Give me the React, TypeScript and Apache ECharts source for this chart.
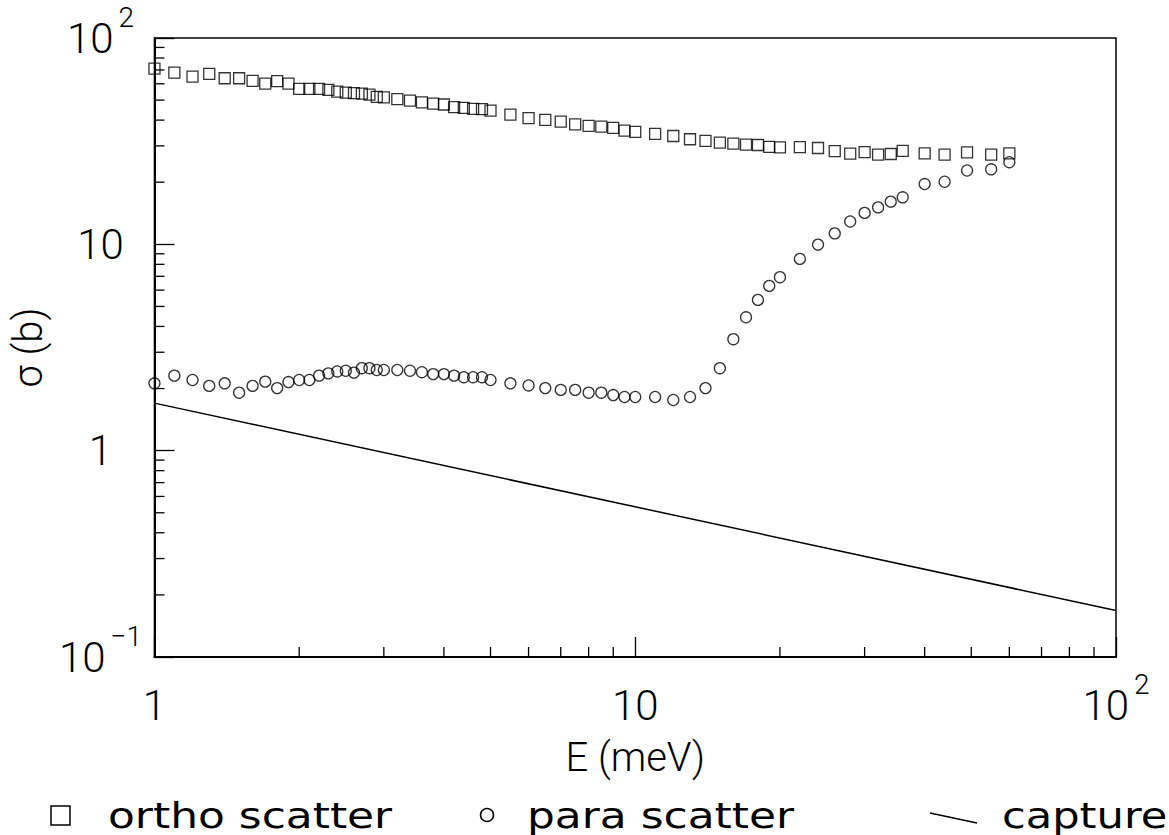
import React, { useEffect, useRef } from "react";
import * as echarts from "echarts";

// Energies (meV) shared by both scatter series
const energies = [
  1.0, 1.1, 1.2, 1.3, 1.4, 1.5, 1.6, 1.7, 1.8, 1.9,
  2.0, 2.1, 2.2, 2.3, 2.4, 2.5, 2.6, 2.7, 2.8, 2.9,
  3.0, 3.2, 3.4, 3.6, 3.8, 4.0, 4.2, 4.4, 4.6, 4.8,
  5.0, 5.5, 6.0, 6.5, 7.0, 7.5, 8.0, 8.5, 9.0, 9.5,
  10, 11, 12, 13, 14, 15, 16, 17, 18, 19,
  20, 22, 24, 26, 28, 30, 32, 34, 36, 40,
  44, 49, 55, 60,
];

// ortho scatter cross-section (b)
const orthoScatter = [
  71, 67.9, 65.0, 67.0, 63.8, 63.8, 62.0, 60.1, 61.8, 60.1,
  56.7, 56.7, 56.7, 56.0, 55.0, 54.4, 54.0, 53.8, 53.2, 51.8,
  51.6, 50.5, 49.7, 48.8, 48.1, 47.6, 46.2, 45.8, 45.3, 45.2,
  44.5, 42.5, 40.9, 40.1, 39.3, 38.1, 37.5, 37.2, 36.7, 35.6,
  35.1, 34.3, 33.5, 32.3, 31.7, 31.1, 30.8, 30.4, 30.3, 29.7,
  29.5, 29.6, 29.3, 28.3, 27.5, 28.0, 27.2, 27.4, 28.4, 27.6,
  27.2, 27.9, 27.2, 27.6,
];

// para scatter cross-section (b)
const paraScatter = [
  2.12, 2.31, 2.2, 2.06, 2.12, 1.91, 2.06, 2.16, 2.01, 2.15,
  2.2, 2.2, 2.31, 2.37, 2.42, 2.44, 2.39, 2.51, 2.51, 2.46,
  2.46, 2.46, 2.44, 2.4, 2.35, 2.35, 2.31, 2.27, 2.27, 2.27,
  2.2, 2.12, 2.07, 2.01, 1.97, 1.97, 1.91, 1.91, 1.86, 1.82,
  1.82, 1.82, 1.76, 1.82, 2.01, 2.51, 3.47, 4.43, 5.38, 6.29,
  6.93, 8.5, 9.97, 11.3, 12.9, 14.2, 15.1, 16.1, 16.9, 19.6,
  20.1, 22.8, 23.1, 25.0,
];

// capture cross-section (straight line on log-log)
const captureE = [1, 100];
const captureSigma = [1.7, 0.168];

const xTickValues = [1, 10, 100];
const xTickLabels = ["{b|1}", "{b|10}", "{b|10}{s|2}"];
const yTickValues = [0.1, 1, 10, 100];
const yTickLabels = ["{b|10}{s|\u22121}", "{b|1}", "{b|10}", "{b|10}{s|2}"];

const xMinorTicks = [2, 3, 4, 5, 6, 7, 8, 9, 20, 30, 40, 50, 60, 70, 80, 90];
const yMinorTicks = [
  0.2, 0.3, 0.4, 0.5, 0.6, 0.7, 0.8, 0.9,
  2, 3, 4, 5, 6, 7, 8, 9,
  20, 30, 40, 50, 60, 70, 80, 90,
];

const legendLabels = ["ortho scatter", "para scatter", "capture"];
const seriesNames = legendLabels;

const X_MIN = 1;
const X_MAX = 100;
const Y_MIN = 0.1;
const Y_MAX = 100;

const LABEL_FONT = "Roboto, 'DejaVu Sans', sans-serif";
const LEGEND_FONT = "'DejaVu Sans', Verdana, sans-serif";

function labelFor(values: number[], labels: string[], v: number): string {
  const i = values.findIndex((t) => Math.abs(Math.log10(t) - Math.log10(v)) < 1e-6);
  return i >= 0 ? labels[i] : "";
}

const richLabels = {
  b: {
    fontSize: 42,
    fontFamily: LABEL_FONT,
    fontWeight: 300,
    color: "#000",
    lineHeight: 70,
  },
  s: {
    fontSize: 28,
    fontFamily: LABEL_FONT,
    fontWeight: 300,
    color: "#000",
    verticalAlign: "top",
    padding: [0, 0, 0, 5],
  },
};

export default function App() {
  const ref = useRef<HTMLDivElement>(null);

  useEffect(() => {
    if (!ref.current) return;
    const chart = echarts.init(ref.current, null, { renderer: "svg" });

    const orthoData = energies.map((e, i) => [e, orthoScatter[i]]);
    const paraData = energies.map((e, i) => [e, paraScatter[i]]);
    const captureData = captureE.map((e, i) => [e, captureSigma[i]]);

    const option: any = {
      animation: false,
      backgroundColor: "#fff",
      grid: {
        left: 152,
        top: 38,
        right: 53,
        bottom: 178,
        show: true,
        borderColor: "#000",
        borderWidth: 1.5,
        backgroundColor: "transparent",
      },
      xAxis: {
        type: "log",
        logBase: 10,
        min: X_MIN,
        max: X_MAX,
        name: "E (meV)",
        nameLocation: "middle",
        nameGap: 80,
        nameTextStyle: {
          fontSize: 40,
          fontFamily: LABEL_FONT,
          fontWeight: 300,
          color: "#000",
        },
        axisLine: { show: true, lineStyle: { color: "#000", width: 2 } },
        axisTick: { show: true, inside: true, length: 20, lineStyle: { color: "#000", width: 1.3 } },
        minorTick: { show: false },
        splitLine: { show: false },
        axisLabel: {
          margin: 13,
          color: "#000",
          formatter: (v: number) => labelFor(xTickValues, xTickLabels, v),
          rich: richLabels,
        },
      },
      yAxis: {
        type: "log",
        logBase: 10,
        min: Y_MIN,
        max: Y_MAX,
        name: "\u03c3 (b)",
        nameLocation: "middle",
        nameGap: 105,
        nameTextStyle: {
          fontSize: 40,
          fontFamily: LABEL_FONT,
          fontWeight: 300,
          color: "#000",
        },
        axisLine: { show: true, lineStyle: { color: "#000", width: 2 } },
        axisTick: { show: true, inside: true, length: 20, lineStyle: { color: "#000", width: 1.3 } },
        minorTick: { show: false },
        splitLine: { show: false },
        axisLabel: {
          margin: 54,
          align: "center",
          color: "#000",
          formatter: (v: number) => labelFor(yTickValues, yTickLabels, v),
          rich: richLabels,
        },
      },
      series: [
        {
          name: seriesNames[0],
          type: "scatter",
          data: orthoData,
          symbol: "rect",
          symbolSize: 11,
          itemStyle: { color: "transparent", borderColor: "#000", borderWidth: 1.3 },
          clip: false,
          z: 3,
        },
        {
          name: seriesNames[1],
          type: "scatter",
          data: paraData,
          symbol: "circle",
          symbolSize: 11,
          itemStyle: { color: "transparent", borderColor: "#000", borderWidth: 1.3 },
          clip: false,
          z: 3,
        },
        {
          name: seriesNames[2],
          type: "line",
          data: captureData,
          showSymbol: false,
          symbol: "none",
          lineStyle: { color: "#000", width: 1.5 },
          z: 2,
        },
        {
          type: "custom",
          silent: true,
          clip: false,
          data: xMinorTicks.map((v) => [v, Y_MIN]),
          renderItem: (_p: any, api: any) => {
            const pt = api.coord([api.value(0), api.value(1)]);
            return {
              type: "line",
              shape: { x1: pt[0], y1: pt[1], x2: pt[0], y2: pt[1] - 10 },
              style: { stroke: "#000", lineWidth: 1.3 },
            };
          },
          z: 4,
        },
        {
          type: "custom",
          silent: true,
          clip: false,
          data: yMinorTicks.map((v) => [X_MIN, v]),
          renderItem: (_p: any, api: any) => {
            const pt = api.coord([api.value(0), api.value(1)]);
            return {
              type: "line",
              shape: { x1: pt[0], y1: pt[1], x2: pt[0] + 10, y2: pt[1] },
              style: { stroke: "#000", lineWidth: 1.3 },
            };
          },
          z: 4,
        },
      ],
      graphic: [
        {
          type: "rect",
          shape: { x: 51, y: 806, width: 19, height: 19 },
          style: { fill: "none", stroke: "#000", lineWidth: 1.5 },
        },
        {
          type: "text",
          x: 108,
          y: 815,
          scaleX: 1.22,
          style: {
            text: legendLabels[0],
            fontSize: 36,
            fontFamily: LEGEND_FONT,
            fill: "#000",
            textVerticalAlign: "middle",
            verticalAlign: "middle",
          },
        },
        {
          type: "circle",
          shape: { cx: 487, cy: 815, r: 6.5 },
          style: { fill: "none", stroke: "#000", lineWidth: 1.5 },
        },
        {
          type: "text",
          x: 527,
          y: 815,
          scaleX: 1.22,
          style: {
            text: legendLabels[1],
            fontSize: 36,
            fontFamily: LEGEND_FONT,
            fill: "#000",
            textVerticalAlign: "middle",
            verticalAlign: "middle",
          },
        },
        {
          type: "line",
          shape: { x1: 930, y1: 813, x2: 977, y2: 823 },
          style: { stroke: "#000", lineWidth: 1.5 },
        },
        {
          type: "text",
          x: 1002,
          y: 815,
          scaleX: 1.2,
          style: {
            text: legendLabels[2],
            fontSize: 36,
            fontFamily: LEGEND_FONT,
            fill: "#000",
            textVerticalAlign: "middle",
            verticalAlign: "middle",
          },
        },
      ],
    };

    chart.setOption(option);
    return () => {
      chart.dispose();
    };
  }, []);

  return (
    <div
      ref={ref}
      style={{ position: "absolute", left: 0, top: 0, width: 1169, height: 835 }}
    />
  );
}
